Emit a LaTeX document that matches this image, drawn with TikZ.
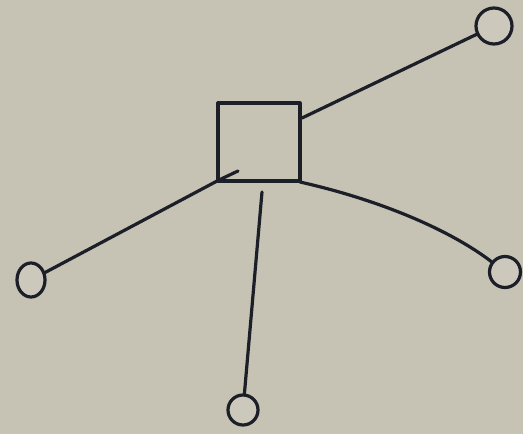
\documentclass[tikz,border=0pt]{standalone}
\usetikzlibrary{shapes.geometric}
\definecolor{paper}{RGB}{198,194,180}
\definecolor{ink}{RGB}{28,30,40}
\begin{document}
\begin{tikzpicture}[x=1pt,y=-1pt,
  inkline/.style={draw=ink,line width=3.2pt,line cap=round,line join=round},
  blob/.style={draw=ink,line width=3.2pt,inner sep=0pt,fill=paper!90!white}]
\fill[paper] (0,0) rectangle (523,434);
\useasboundingbox (0,0) rectangle (523,434);
\node[inkline,draw,minimum width=82pt,minimum height=78pt,inner sep=0pt] (sq) at (259,142) {};
\node[blob,circle,minimum size=36pt] (tr) at (494,26) {};
\node[blob,circle,minimum size=31pt] (r) at (505,272) {};
\node[blob,circle,minimum size=30pt] (b) at (243,410) {};
\node[blob,ellipse,minimum width=28pt,minimum height=34pt] (l) at (31,280) {};
\coordinate (sqR) at (302,118);
\coordinate (sqBR) at (300,182);
\coordinate (sqB) at (262,192);
\coordinate (sqBL) at (219,180);
\coordinate (inBL) at (238,171);
\draw[inkline] (sqR) -- (tr);
\draw[inkline] (sqBR) .. controls (380,200) and (450,230) .. (r);
\draw[inkline] (sqB) -- (b);
\draw[inkline] (inBL) -- (sqBL) -- (l);
\end{tikzpicture}
\end{document}
